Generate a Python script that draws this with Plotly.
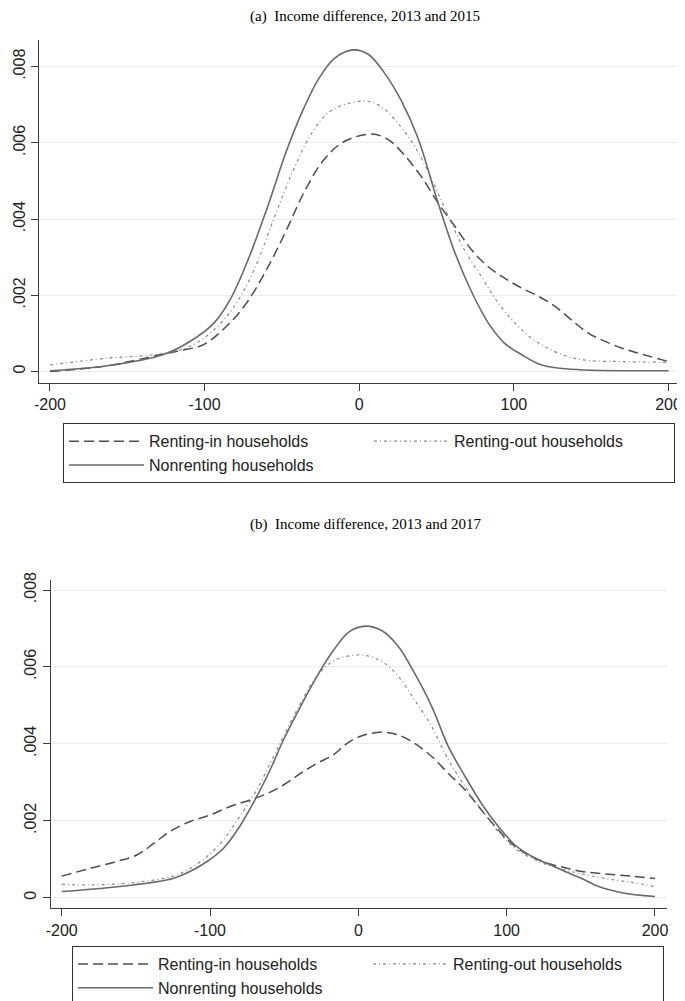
import plotly.graph_objects as go

# ---------------- Panel (a): 2013 and 2015 ----------------
a_in_x = [-200, -163, -129, -116, -101, -86, -73, -60, -47, -36, -23, -10, 8, 19, 30, 40, 51, 62,
          72.7, 83.4, 94, 105, 116, 126.6, 137, 148, 159, 170, 180.5, 200]
a_in_y = [0.0, 0.00015, 0.00044, 0.00055, 0.0007, 0.00118, 0.00179, 0.00267, 0.00372, 0.00468, 0.00555,
          0.00603, 0.00623, 0.00608, 0.00564, 0.00512, 0.00442, 0.0038, 0.00319, 0.00275,
          0.00245, 0.00219, 0.00197, 0.00171, 0.00136, 0.00101, 0.00079, 0.00061, 0.00048, 0.00026]

a_out_x = [-200, -163, -129, -109, -94, -81, -68, -55.5, -42.6, -30, -18, 3, 14.4, 25, 36, 47,
           57.6, 68, 79, 90, 100.7, 111.5, 122, 135, 148, 170, 200]
a_out_y = [0.00017, 0.00035, 0.00046, 0.00067, 0.00109, 0.0017, 0.00267, 0.00398, 0.00529, 0.0063,
           0.00685, 0.0071, 0.00695, 0.00651, 0.0059, 0.00503, 0.00407, 0.00319, 0.00249,
           0.00179, 0.00127, 0.00087, 0.00061, 0.00039, 0.00029, 0.00026, 0.00024]

a_non_x = [-200, -163, -127, -109, -94, -83.6, -72.8, -60, -47, -36, -26, -16, -4, 6, 16, 27, 38, 51, 62,
           73, 83.5, 94, 105, 118, 137, 200]
a_non_y = [0.00002, 0.00015, 0.00044, 0.0008, 0.00127, 0.00188, 0.00284, 0.00424, 0.0058, 0.0069,
           0.0077, 0.00822, 0.00844, 0.00832, 0.00785, 0.00712, 0.00612, 0.00442, 0.0031, 0.00206,
           0.00127, 0.00074, 0.00044, 0.00017, 0.00006, 0.00002]

# ---------------- Panel (b): 2013 and 2017 ----------------
b_in_x = [-200, -181, -163, -149.4, -138, -127, -113.5, -100, -86.5, -73, -61.8, -50.5, -39, -28, -17,
          -8, 1, 15, 27, 38, 49.5, 60.7, 72, 83, 94.4, 105.6, 117, 128, 139.4, 150.6, 166, 184, 200]
b_in_y = [0.00056, 0.00076, 0.00094, 0.00111, 0.00141, 0.00172, 0.00198, 0.00215, 0.00237, 0.00254,
          0.0027, 0.00293, 0.00323, 0.00349, 0.00371, 0.004, 0.00419, 0.0043, 0.00423,
          0.00401, 0.00367, 0.00323, 0.0028, 0.00228, 0.00176, 0.00133, 0.00107, 0.00089, 0.00078,
          0.00068, 0.00062, 0.00056, 0.0005]

b_out_x = [-200, -181, -152, -125, -113.5, -102, -91, -80, -68.5, -59.5, -50.5, -39, -28, -16, 2,
           16, 27, 38, 49.5, 60.7, 72, 83, 94.4, 105.6, 117, 128, 139.4, 150.6, 166, 184, 200]
b_out_y = [0.00035, 0.00033, 0.00039, 0.00056, 0.00076, 0.00107, 0.0015, 0.00211, 0.0028, 0.00349,
           0.00419, 0.00505, 0.00575, 0.00617, 0.00631, 0.00614, 0.00575, 0.00514, 0.00445,
           0.00358, 0.00289, 0.00228, 0.00172, 0.00128, 0.00102, 0.00085, 0.00072, 0.00062, 0.0005,
           0.0004, 0.00029]

b_non_x = [-200, -174, -152, -125, -113.5, -102, -91, -80, -68.5, -59.5, -50.5, -39, -28, -17, -6, 5,
           16, 27, 38, 49.5, 60.7, 72, 83, 94.4, 105.6, 117, 128, 139.4, 150.6, 162, 177.6, 200]
b_non_y = [0.00016, 0.00024, 0.00033, 0.0005, 0.00068, 0.00094, 0.00128, 0.00185, 0.00263, 0.00332,
           0.0041, 0.00497, 0.00575, 0.00642, 0.00692, 0.00706, 0.00694, 0.00653, 0.00583,
           0.00497, 0.00393, 0.00315, 0.00245, 0.00185, 0.00137, 0.00107, 0.00088, 0.00068, 0.0005,
           0.00029, 0.00013, 0.00003]

series_names = ["Renting-in households", "Renting-out households", "Nonrenting households"]
titles = ["(a)  Income difference, 2013 and 2015", "(b)  Income difference, 2013 and 2017"]
x_ticks = [-200, -100, 0, 100, 200]
x_tick_text = ["-200", "-100", "0", "100", "200"]
y_ticks = [0, 0.002, 0.004, 0.006, 0.008]
y_tick_text = ["0", ".002", ".004", ".006", ".008"]

# page has an 8px body margin; the figure is sized so it fills the 685x1001 window
OFF = 8
FW, FH = 685 - OFF, 1001 - OFF


def px(v):
    return (v - OFF) / FW


def py(v):
    return 1 - (v - OFF) / FH


SANS = "Liberation Sans, Arial, sans-serif"
SERIF = "Liberation Serif, Times New Roman, serif"

styles = [
    dict(color="#4d4d4d", width=1.5, dash="10px,5px"),
    dict(color="#8a8a8a", width=1.2, dash="3px,3px,1px,3px"),
    dict(color="#6a6a6a", width=1.6),
]

fig = go.Figure()

panels = [
    ((a_in_x, a_in_y), (a_out_x, a_out_y), (a_non_x, a_non_y)),
    ((b_in_x, b_in_y), (b_out_x, b_out_y), (b_non_x, b_non_y)),
]
axis_ids = [("x", "y", "legend"), ("x2", "y2", "legend2")]

for p, series in enumerate(panels):
    xa, ya, lg = axis_ids[p]
    for i, (sx, sy) in enumerate(series):
        fig.add_trace(go.Scatter(
            x=sx, y=sy, mode="lines", name=series_names[i],
            line=dict(shape="spline", smoothing=1.0, **styles[i]),
            xaxis=xa, yaxis=ya, legend=lg, showlegend=True,
        ))

axis_common = dict(
    showline=True, linecolor="#3c3c3c", linewidth=1, mirror=False,
    ticks="outside", ticklen=7, tickcolor="#3c3c3c", tickwidth=1,
    tickfont=dict(family=SANS, size=16, color="#222222"),
    zeroline=False,
)

legend_common = dict(
    xanchor="left", yanchor="top", orientation="h", itemwidth=75,
    bordercolor="#333333", borderwidth=1, bgcolor="white",
    font=dict(family=SANS, size=16, color="#222222"), tracegroupgap=0, traceorder="normal",
)

fig.update_layout(
    width=FW, height=FH,
    margin=dict(l=0, r=0, t=0, b=0, autoexpand=False),
    paper_bgcolor="white", plot_bgcolor="white",
    xaxis=dict(domain=[px(39), px(680)], range=[-207.1, 207.4], tickvals=x_ticks, ticktext=x_tick_text,
               showgrid=False, anchor="y", **axis_common),
    yaxis=dict(domain=[py(382.7), py(40)], range=[-0.000294, 0.0087], tickvals=y_ticks,
               ticktext=y_tick_text, tickangle=-90, showgrid=True, gridcolor="#ececec", gridwidth=1,
               anchor="x", **axis_common),
    xaxis2=dict(domain=[px(50.7), px(666.7)], range=[-207.4, 207.9], tickvals=x_ticks, ticktext=x_tick_text,
                showgrid=False, anchor="y2", **axis_common),
    yaxis2=dict(domain=[py(908.3), py(580)], range=[-0.000276, 0.00826], tickvals=y_ticks,
                ticktext=y_tick_text, tickangle=-90, showgrid=True, gridcolor="#ececec", gridwidth=1,
                anchor="x2", **axis_common),
    legend=dict(x=px(63), y=py(423.3), entrywidth=215, **legend_common),
    legend2=dict(x=px(72), y=py(946), entrywidth=205, **legend_common),
    showlegend=True,
)

fig.add_annotation(text=titles[0], xref="paper", yref="paper", x=px(365), y=py(16.5),
                   xanchor="center", yanchor="middle", showarrow=False,
                   font=dict(family=SERIF, size=15, color="#000000"))
fig.add_annotation(text=titles[1], xref="paper", yref="paper", x=px(365), y=py(524),
                   xanchor="center", yanchor="middle", showarrow=False,
                   font=dict(family=SERIF, size=15, color="#000000"))

fig.write_html("out.html")
